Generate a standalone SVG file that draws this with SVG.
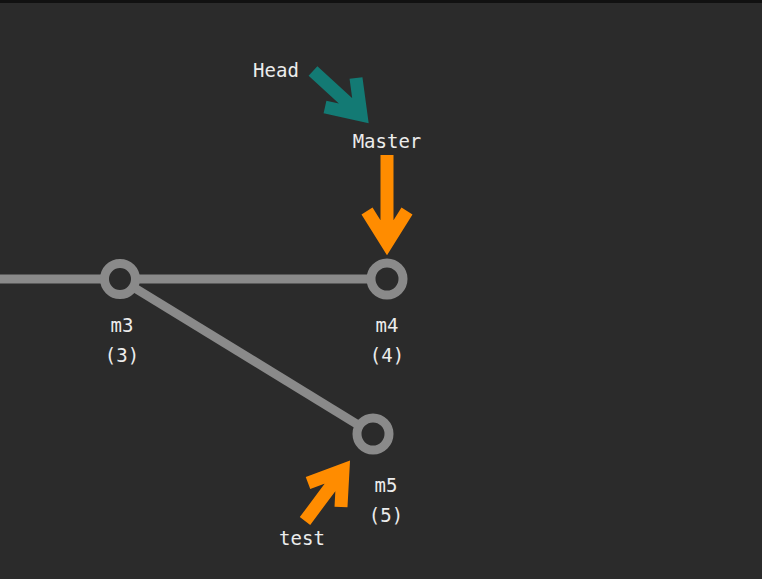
<svg xmlns="http://www.w3.org/2000/svg" width="762" height="579" viewBox="0 0 762 579">
<style>
.lbl{font-family:"DejaVu Sans Mono","Liberation Mono",monospace;font-size:19px;fill:#ececec;text-anchor:middle}
.edge{stroke:#8a8a8a;stroke-width:9;fill:none}
.node{stroke:#8a8a8a;stroke-width:9;fill:#2b2b2b}
.arrow{fill:none;stroke-width:13;stroke-linecap:butt;stroke-linejoin:miter}
</style>
<rect x="0" y="0" width="762" height="579" fill="#2b2b2b"/>
<rect x="0" y="0" width="762" height="3" fill="#111111"/>
<g id="connectors">
<line class="edge" x1="0" y1="279" x2="387" y2="279"/>
<line class="edge" x1="120" y1="279" x2="373" y2="434"/>
</g>
<g id="m3">
<circle class="node" cx="120" cy="279" r="15.5"/>
<text class="lbl" x="122" y="332">m3</text>
<text class="lbl" x="122" y="362">(3)</text>
</g>
<g id="m4">
<circle class="node" cx="387" cy="279" r="16"/>
<text class="lbl" x="387" y="332">m4</text>
<text class="lbl" x="387" y="362">(4)</text>
</g>
<g id="m5">
<circle class="node" cx="373" cy="434" r="16"/>
<text class="lbl" x="386" y="492">m5</text>
<text class="lbl" x="386" y="522">(5)</text>
</g>
<g id="head">
<text class="lbl" x="276" y="77">Head</text>
<path class="arrow" stroke="#137a74" d="M313 71 L361 115 M325 107 L361 115 L356 78"/>
</g>
<g id="master">
<text class="lbl" x="387" y="148">Master</text>
<path class="arrow" stroke="#ff8c00" d="M387 155 L387 243 M367 211 L387 243 L407 211"/>
</g>
<g id="test">
<text class="lbl" x="302" y="545">test</text>
<path class="arrow" stroke="#ff8c00" d="M305 521 L343 470 M308 483 L343 470 L341 507"/>
</g>
</svg>
